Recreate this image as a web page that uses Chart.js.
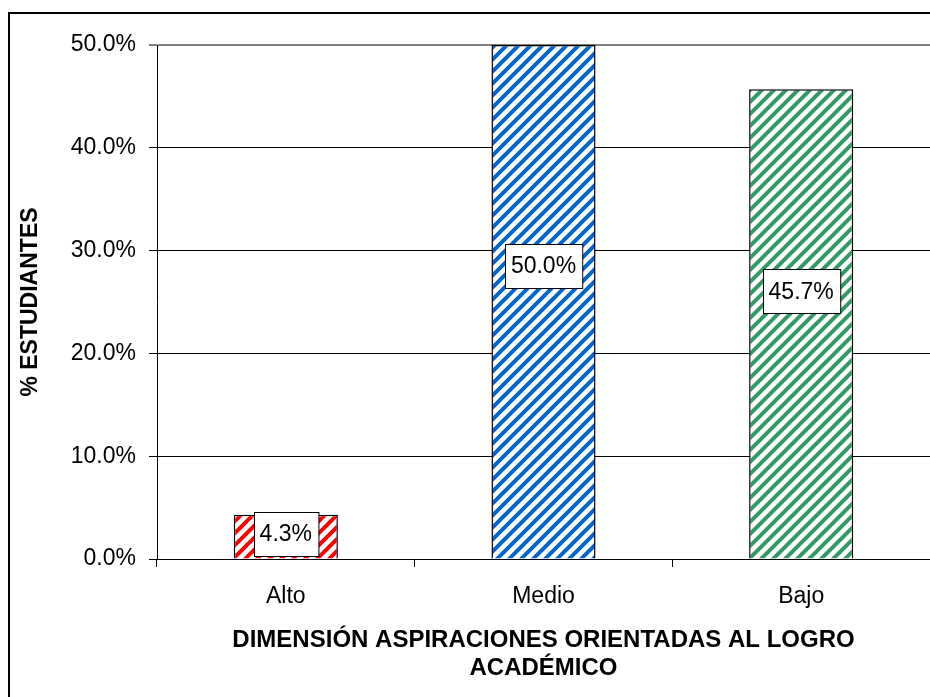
<!DOCTYPE html>
<html>
<head>
<meta charset="utf-8">
<script src="https://cdn.jsdelivr.net/npm/chart.js@4.4.0/dist/chart.umd.min.js"></script>
<style>
  html, body { margin: 0; padding: 0; background: #fff; }
  canvas { display: block; }
</style>
</head>
<body>
<canvas id="chart" width="930" height="697"></canvas>
<script>
// data
const categories = ['Alto', 'Medio', 'Bajo'];
const percentValues = [4.3, 50.0, 45.7];
const barColors = ['#ff0000', '#0066cc', '#339966'];
const yTicks = [0, 10, 20, 30, 40, 50];

const xTitle = ['DIMENSIÓN ASPIRACIONES ORIENTADAS AL LOGRO', 'ACADÉMICO'];
const yTitle = '% ESTUDIANTES';

const FONT = '"Liberation Sans", Arial, sans-serif';

// diagonal stripe fill, like the old Excel hatch
function stripes(color) {
  const size = 12;
  const c = document.createElement('canvas');
  c.width = size;
  c.height = size;
  const g = c.getContext('2d');
  g.fillStyle = '#fff';
  g.fillRect(0, 0, size, size);
  g.strokeStyle = color;
  g.lineWidth = 4;
  g.beginPath();
  for (let k = -1; k <= 1; k++) {
    g.moveTo(k * size - 2, size + 2);
    g.lineTo(k * size + size + 2, -2);
  }
  g.stroke();
  return g.createPattern(c, 'repeat');
}

// frame round the whole picture (only top and left edges show)
const framePlugin = {
  id: 'frame',
  afterDraw(chart) {
    const ctx = chart.ctx;
    ctx.save();
    ctx.strokeStyle = '#000';
    ctx.lineWidth = 2;
    ctx.beginPath();
    ctx.moveTo(9, chart.height + 2);
    ctx.lineTo(9, 13);
    ctx.lineTo(chart.width + 2, 13);
    ctx.stroke();
    ctx.restore();
  }
};

// boxed value labels inside the bars
const boxLabels = {
  id: 'boxLabels',
  afterDatasetsDraw(chart, args, opts) {
    const ctx = chart.ctx;
    const yScale = chart.scales.y;
    const meta = chart.getDatasetMeta(0);
    ctx.save();
    ctx.font = opts.font;
    ctx.textAlign = 'center';
    ctx.textBaseline = 'middle';
    meta.data.forEach((bar, i) => {
      const v = chart.data.datasets[0].data[i];
      const txt = v.toFixed(1) + '%';
      const w = ctx.measureText(txt).width + 12;
      const h = 44;
      const cy = yScale.getPixelForValue(v * opts.anchor);
      const x0 = Math.round(bar.x - w / 2) + 0.5;
      const y0 = Math.round(cy - h / 2) + 0.5;
      ctx.fillStyle = '#fff';
      ctx.fillRect(x0, y0, w, h);
      ctx.strokeStyle = '#000';
      ctx.lineWidth = 1;
      ctx.strokeRect(x0, y0, w, h);
      ctx.fillStyle = '#000';
      ctx.fillText(txt, bar.x, cy + 1);
    });
    ctx.restore();
  }
};

Chart.defaults.color = '#000';
Chart.defaults.font.family = FONT;

new Chart(document.getElementById('chart'), {
  type: 'bar',
  data: {
    labels: categories,
    datasets: [{
      data: percentValues,
      backgroundColor: barColors.map(stripes),
      borderColor: '#000',
      borderWidth: 1.5,
      barPercentage: 0.404,
      categoryPercentage: 1
    }]
  },
  options: {
    responsive: false,
    devicePixelRatio: 1,
    animation: false,
    layout: { padding: { top: 45, left: 0, right: 0, bottom: 0 } },
    plugins: {
      legend: { display: false },
      tooltip: { enabled: false },
      boxLabels: { font: '23px ' + FONT, anchor: 0.57 }
    },
    scales: {
      y: {
        min: 0,
        max: 50,
        afterBuildTicks: (scale) => { scale.ticks = yTicks.map(v => ({ value: v })); },
        afterFit: (scale) => { scale.width = 157; },
        ticks: {
          callback: (v) => v.toFixed(1) + '%',
          font: { size: 23 },
          color: '#000',
          padding: 13
        },
        grid: {
          color: (c) => (c.tick && c.tick.value === 50 ? '#808080' : '#000'),
          lineWidth: (c) => (c.tick && c.tick.value === 50 ? 2 : 1),
          tickColor: '#000',
          tickLength: 8,
          tickWidth: 1
        },
        border: { display: true, color: '#000', width: 1 },
        title: {
          display: true,
          text: yTitle,
          font: { size: 23, weight: 'bold' },
          color: '#000',
          padding: { top: 17, bottom: 0 }
        }
      },
      x: {
        offset: true,
        afterFit: (scale) => { scale.height = 138; },
        ticks: {
          font: { size: 23 },
          color: '#000',
          padding: 16
        },
        grid: {
          offset: true,
          drawOnChartArea: false,
          drawTicks: true,
          tickLength: 8,
          tickColor: '#000',
          tickWidth: 1
        },
        border: { display: true, color: '#000', width: 1 },
        title: {
          display: true,
          text: xTitle,
          font: { size: 24, weight: 'bold', lineHeight: 1.17 },
          color: '#000',
          padding: { top: 0, bottom: 15 }
        }
      }
    }
  },
  plugins: [framePlugin, boxLabels]
});
</script>
</body>
</html>
